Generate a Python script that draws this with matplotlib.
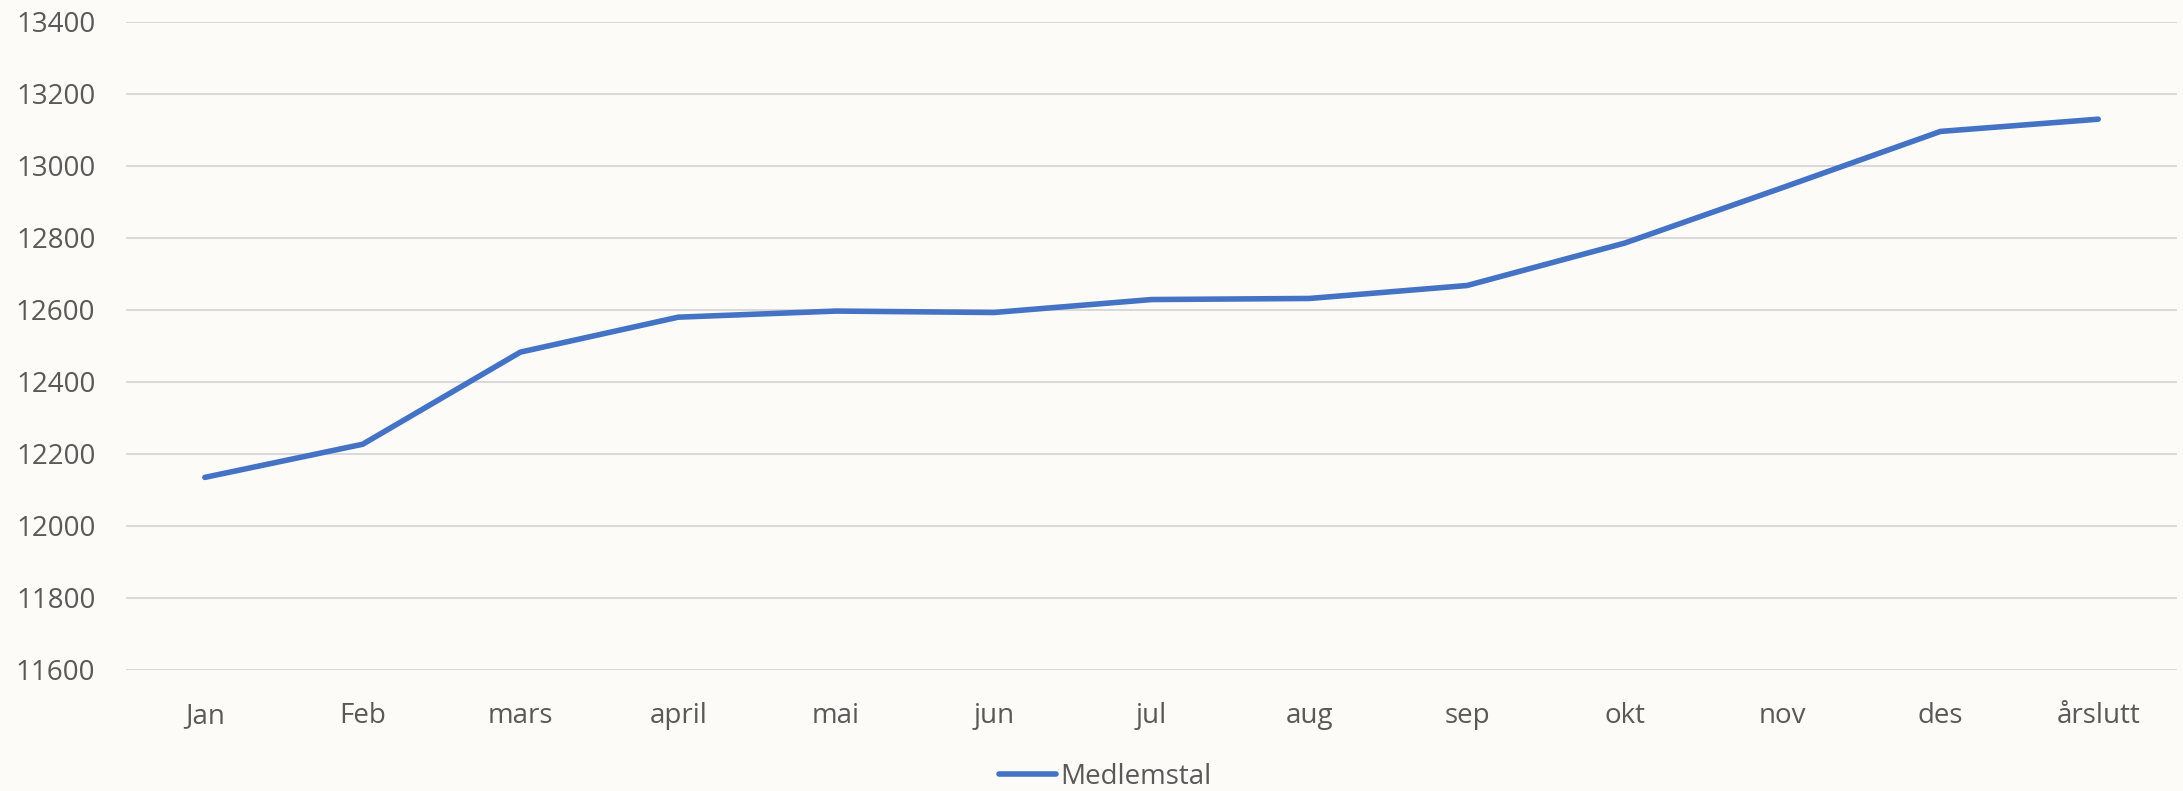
import matplotlib.pyplot as plt

plt.rcParams['font.family'] = ['Open Sans', 'DejaVu Sans']

# membership count per month
months = ['Jan', 'Feb', 'mars', 'april', 'mai', 'jun', 'jul', 'aug', 'sep',
          'okt', 'nov', 'des', 'årslutt']
members = [12135, 12227, 12483, 12580, 12597, 12593, 12629, 12632, 12668,
           12786, 12940, 13096, 13130]
yticks = [11600, 11800, 12000, 12200, 12400, 12600, 12800, 13000, 13200, 13400]

bg = '#fcfbf7'
text_color = '#595959'

fig = plt.figure(figsize=(21.83, 7.91), dpi=100, facecolor=bg)
ax = fig.add_axes([0.0577, 0.153, 0.9396, 0.8192], facecolor=bg)

x = range(len(months))
ax.plot(x, members, color='#4472c4', lw=4.0, solid_capstyle='round',
        solid_joinstyle='round', label='Medlemstal', zorder=3)

ax.set_xlim(-0.5, len(months) - 0.5)
ax.set_ylim(11600, 13400)
ax.set_yticks(yticks)
ax.set_yticklabels([str(v) for v in yticks])
ax.set_xticks(list(x))
ax.set_xticklabels(months)
ax.yaxis.grid(True, color='#d9d9d9', lw=1.4)
ax.set_axisbelow(True)

for s in ax.spines.values():
    s.set_visible(False)
ax.tick_params(axis='both', length=0, labelsize=20, labelcolor=text_color)
ax.tick_params(axis='y', pad=22)
ax.tick_params(axis='x', pad=23)

fig.legend(loc='center', bbox_to_anchor=(1105 / 2183, 1 - 777 / 791),
           frameon=False, fontsize=20, labelcolor=text_color,
           handlelength=2.05, handletextpad=0.15)

fig.savefig('out.png', dpi=100, facecolor=bg)
